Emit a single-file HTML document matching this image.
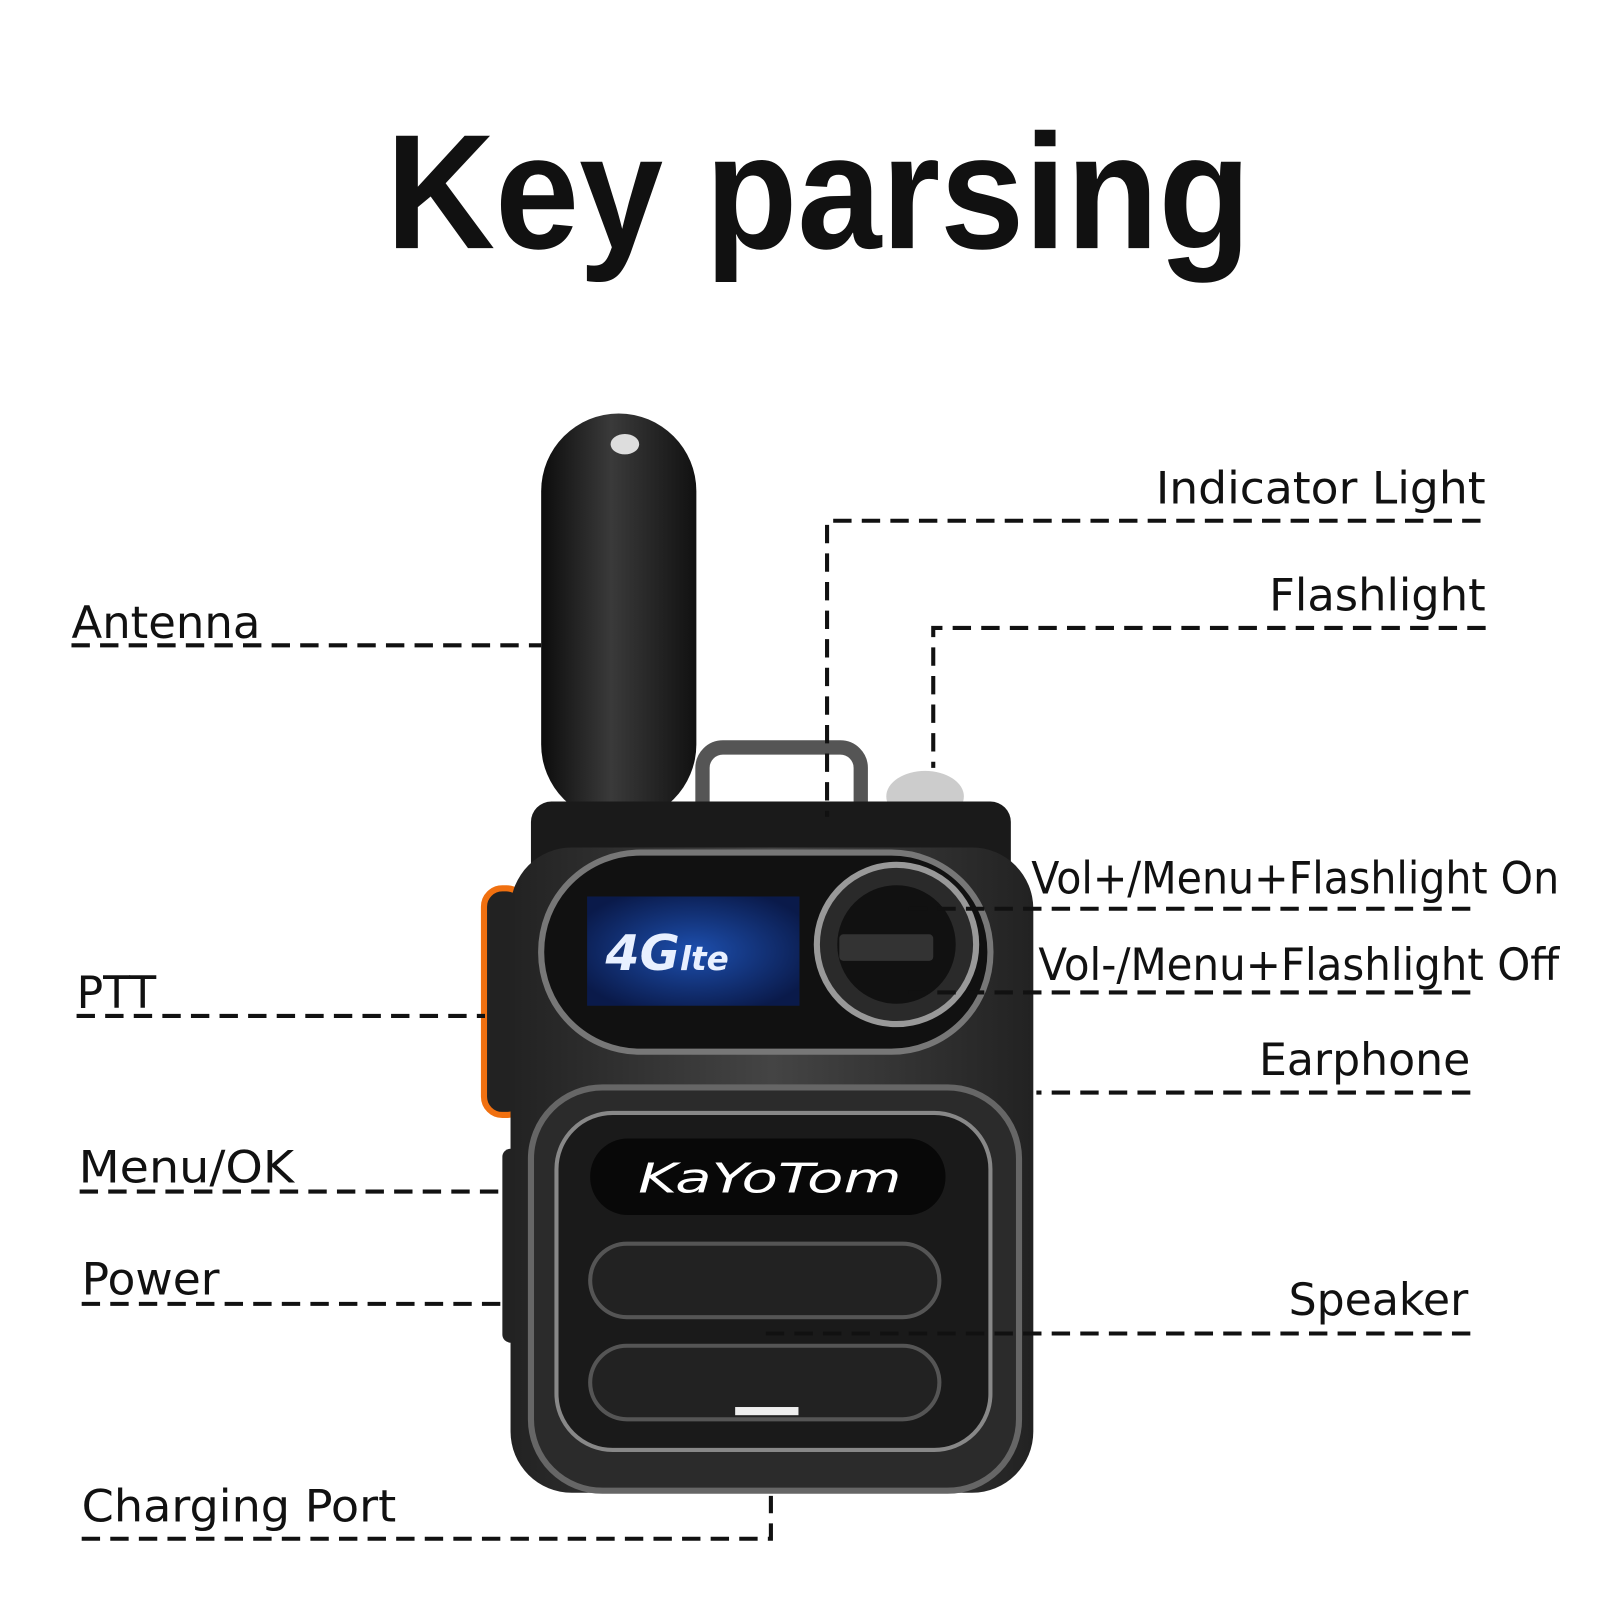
<!DOCTYPE html>
<html><head><style>html,body{margin:0;padding:0;background:#fff;width:1600px;height:1600px;overflow:hidden}</style></head>
<body>
<svg width="1600" height="1600" viewBox="0 0 1567 1567" xmlns="http://www.w3.org/2000/svg" font-family="'DejaVu Sans','Liberation Sans',sans-serif">
<defs>
<linearGradient id="ant" x1="0" x2="1"><stop offset="0" stop-color="#0c0c0c"/><stop offset="0.45" stop-color="#3a3a3a"/><stop offset="1" stop-color="#111"/></linearGradient>
<linearGradient id="body" x1="0" x2="1"><stop offset="0" stop-color="#222"/><stop offset="0.5" stop-color="#444"/><stop offset="1" stop-color="#222"/></linearGradient>
<radialGradient id="scr" cx="0.5" cy="0.5" r="0.6"><stop offset="0" stop-color="#1d4fae"/><stop offset="1" stop-color="#0a1a4a"/></radialGradient>
</defs>
<text x="378" y="243" font-size="160" font-family="'Liberation Sans',sans-serif" font-weight="bold" textLength="847" lengthAdjust="spacingAndGlyphs" fill="#111">Key parsing</text>

<rect x="530" y="405" width="152" height="400" rx="76" fill="url(#ant)"/>
<ellipse cx="612" cy="435" rx="14" ry="10" fill="#ddd"/>
<rect x="688" y="732" width="155" height="75" rx="20" fill="none" stroke="#555" stroke-width="14"/>
<ellipse cx="906" cy="780" rx="38" ry="25" fill="#ccc"/>
<rect x="520" y="785" width="470" height="90" rx="20" fill="#1a1a1a"/>
<rect x="474" y="870" width="40" height="222" rx="18" fill="#222" stroke="#f07010" stroke-width="6"/>
<rect x="492" y="1125" width="22" height="190" rx="8" fill="#222"/>
<rect x="500" y="830" width="512" height="632" rx="60" fill="url(#body)"/>
<rect x="530" y="835" width="440" height="195" rx="97" fill="#111" stroke="#777" stroke-width="6"/>
<rect x="575" y="878" width="208" height="107" fill="url(#scr)"/>
<text x="593" y="950" font-size="48" font-weight="bold" font-style="italic" fill="#e8f0ff">4G<tspan font-size="32">lte</tspan></text>
<circle cx="878" cy="925" r="78" fill="#2a2a2a" stroke="#999" stroke-width="6"/>
<circle cx="878" cy="925" r="58" fill="#111"/>
<rect x="822" y="915" width="92" height="26" rx="4" fill="#333"/>
<rect x="520" y="1065" width="478" height="395" rx="70" fill="#2b2b2b" stroke="#666" stroke-width="6"/>
<rect x="545" y="1090" width="425" height="330" rx="55" fill="#1a1a1a" stroke="#888" stroke-width="4"/>
<rect x="578" y="1115" width="348" height="75" rx="37" fill="#080808"/>
<text x="625" y="1168" font-size="40" font-style="italic" fill="#fff" textLength="258" lengthAdjust="spacingAndGlyphs">KaYoTom</text>
<rect x="578" y="1218" width="342" height="72" rx="36" fill="#222" stroke="#555" stroke-width="4"/>
<rect x="578" y="1318" width="342" height="72" rx="36" fill="#222" stroke="#555" stroke-width="4"/>
<rect x="720" y="1378" width="62" height="8" fill="#eee"/>

<g stroke="#111" stroke-width="4" stroke-dasharray="18 10" fill="none">
<path d="M70 632H530"/>
<path d="M1450 510H810V800"/>
<path d="M1455 615H914V752"/>
<path d="M1440 890H885"/>
<path d="M1440 972H885"/>
<path d="M1440 1070H1015"/>
<path d="M75 995H475"/>
<path d="M78 1167H495"/>
<path d="M80 1277H495"/>
<path d="M1440 1306H748"/>
<path d="M80 1507H755V1465"/>
</g>
<g font-size="44" fill="#111">
<text x="70" y="625" textLength="185" lengthAdjust="spacingAndGlyphs">Antenna</text>
<text x="1132" y="493" textLength="323" lengthAdjust="spacingAndGlyphs">Indicator Light</text>
<text x="1243" y="598" textLength="212" lengthAdjust="spacingAndGlyphs">Flashlight</text>
<text x="1010" y="875" textLength="517" lengthAdjust="spacingAndGlyphs">Vol+/Menu+Flashlight On</text>
<text x="1017" y="960" textLength="510" lengthAdjust="spacingAndGlyphs">Vol-/Menu+Flashlight Off</text>
<text x="1233" y="1053" textLength="207" lengthAdjust="spacingAndGlyphs">Earphone</text>
<text x="75" y="987" textLength="78" lengthAdjust="spacingAndGlyphs">PTT</text>
<text x="77" y="1158" textLength="211" lengthAdjust="spacingAndGlyphs">Menu/OK</text>
<text x="80" y="1268" textLength="135" lengthAdjust="spacingAndGlyphs">Power</text>
<text x="1262" y="1288" textLength="176" lengthAdjust="spacingAndGlyphs">Speaker</text>
<text x="80" y="1490" textLength="308" lengthAdjust="spacingAndGlyphs">Charging Port</text>
</g>
</svg>
</body></html>
